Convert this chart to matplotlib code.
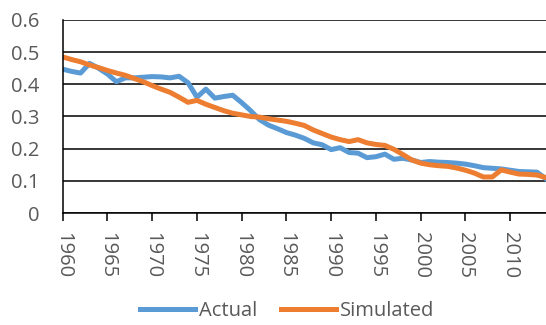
import numpy as np
import matplotlib.pyplot as plt

# %% data
years = np.arange(1960, 2015)

actual = [0.447, 0.440, 0.435, 0.465, 0.450, 0.432, 0.408, 0.420, 0.420, 0.422,
          0.424, 0.423, 0.420, 0.425, 0.405, 0.360, 0.385, 0.357, 0.362, 0.366,
          0.343, 0.318, 0.290, 0.273, 0.262, 0.250, 0.242, 0.232, 0.218, 0.212,
          0.197, 0.203, 0.188, 0.186, 0.172, 0.175, 0.183, 0.167, 0.170, 0.165,
          0.157, 0.160, 0.158, 0.157, 0.155, 0.152, 0.147, 0.141, 0.139, 0.137,
          0.133, 0.129, 0.128, 0.127, 0.106]

simulated = [0.485, 0.477, 0.470, 0.460, 0.452, 0.443, 0.435, 0.428, 0.418, 0.408,
             0.396, 0.385, 0.375, 0.360, 0.344, 0.350, 0.338, 0.328, 0.318, 0.310,
             0.305, 0.300, 0.298, 0.293, 0.289, 0.285, 0.279, 0.272, 0.258, 0.247,
             0.236, 0.228, 0.222, 0.228, 0.218, 0.213, 0.210, 0.198, 0.182, 0.165,
             0.155, 0.150, 0.147, 0.145, 0.140, 0.133, 0.124, 0.112, 0.112, 0.134,
             0.127, 0.121, 0.120, 0.118, 0.110]

year_ticks = np.arange(1960, 2015, 5)
y_ticks = [0, 0.1, 0.2, 0.3, 0.4, 0.5, 0.6]

# %% plot
plt.rcParams['font.family'] = ['Open Sans', 'DejaVu Sans']
grey = '#595959'

fig = plt.figure(figsize=(5.46, 3.25), dpi=100)
ax = fig.add_axes([0.1148, 0.3446, 0.8852, 0.594])

ax.plot(years, actual, color='#5B9BD5', lw=3.6, label='Actual')
ax.plot(years, simulated, color='#ED7D31', lw=3.6, label='Simulated')

ax.set_xlim(1960, 2014)
ax.set_ylim(0, 0.6)
ax.set_yticks(y_ticks)
ax.set_yticklabels(['0' if v == 0 else f'{v:.1f}' for v in y_ticks])
ax.set_xticks(year_ticks)
ax.set_xticklabels([str(y) for y in year_ticks], rotation=-90)
ax.grid(axis='y', color='black', lw=1.1)
ax.set_axisbelow(True)

for s in ['top', 'right']:
    ax.spines[s].set_visible(False)
ax.spines['left'].set_linewidth(1.1)
ax.spines['bottom'].set_linewidth(1.1)

ax.tick_params(axis='y', length=0, pad=17, labelsize=14.5, labelcolor=grey)
ax.tick_params(axis='x', length=5.8, width=1.1, direction='out', pad=8,
               labelsize=14.5, labelcolor=grey)

fig.legend(loc='center', bbox_to_anchor=(0.526, 0.042), ncol=2, frameon=False,
           fontsize=14.5, labelcolor=grey, handlelength=2.74, handletextpad=0.2,
           columnspacing=1.2)

fig.savefig('out.png', dpi=100)
